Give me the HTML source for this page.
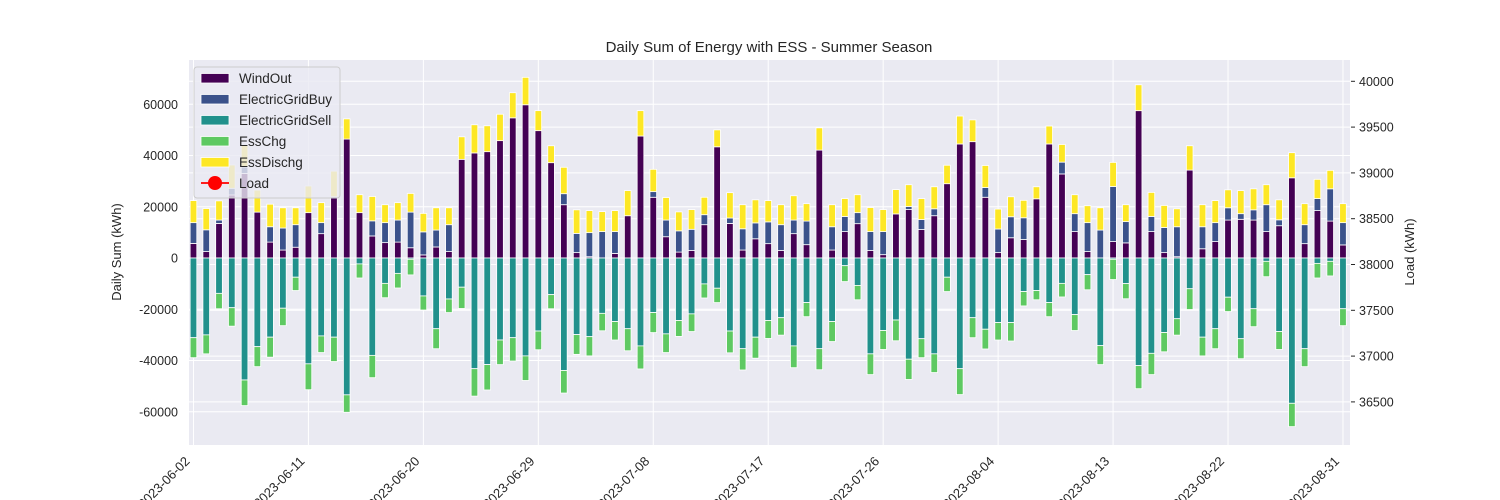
<!DOCTYPE html>
<html><head><meta charset="utf-8"><style>
html,body{margin:0;padding:0;background:#fff;}
svg{display:block;font-family:"Liberation Sans",Arial,sans-serif;}
</style></head><body>
<svg id="chart" width="1500" height="500" viewBox="0 0 1500 500">
<rect x="189" y="60" width="1161" height="385" fill="#eaeaf2"/>
<g id="grid"></g>
<g id="bars"></g>
<g id="axes"></g>
<text x="769" y="52" font-size="15" text-anchor="middle" fill="#262626">Daily Sum of Energy with ESS - Summer Season</text>
<text transform="translate(121,252) rotate(-90)" font-size="13" text-anchor="middle" fill="#262626">Daily Sum (kWh)</text>
<text transform="translate(1414,252) rotate(-90)" font-size="13" text-anchor="middle" fill="#262626">Load (kWh)</text>
<g id="legend"></g>
</svg>
<script>
const startDate = "2023-06-02";
const windOut = [5700,2500,13500,24600,33000,17900,6200,3100,4200,17700,9500,23900,46400,17700,8600,6000,6200,4000,1200,4300,2500,38500,41000,41500,45800,54700,59800,49700,37200,20800,2100,500,0,1800,16500,47600,23700,8300,2300,2900,13000,43400,13500,3100,7500,5600,2900,9500,5200,42100,3100,10300,13400,2900,1300,17200,18900,11100,16500,29000,44500,45400,23700,2100,7900,7200,23100,44500,32800,10300,2500,0,6400,5900,57500,10300,2100,500,34300,3600,6400,14800,15100,14800,10300,12600,31300,5600,18500,14400,5100];
const gridBuy = [8100,8500,1300,2600,2500,0,6000,8600,8800,0,4300,0,0,0,5900,7800,8600,13900,9000,6600,10500,0,0,0,0,0,0,0,0,4300,7500,9400,10300,8500,0,0,2200,6500,8300,8300,3900,0,2100,8300,6200,8500,10100,5300,9200,0,9100,5900,4300,7400,9000,0,1200,3900,2700,0,0,0,3800,9200,8200,8500,0,0,4600,7000,11300,10900,21500,8300,0,5900,9800,11700,0,8600,7400,4800,2200,4000,10500,2300,0,7400,4700,12600,8700];
const essDischg = [8600,8300,7500,9100,8500,8600,8800,7900,6600,10400,7800,10000,7900,7000,9500,7000,6800,7300,7200,8700,6600,8800,11000,10100,10300,9800,10700,7800,6600,10300,9200,8600,7800,8200,9800,9900,8700,8800,7400,7700,6800,6600,9900,9400,9000,8300,7800,9500,6800,8700,8600,7000,7000,9400,8600,9500,8500,8200,8600,7200,10900,8500,8600,7800,7800,6800,4700,7000,6900,7400,6600,8700,9400,6600,10100,9400,8600,7000,9500,8600,8600,7000,9000,8200,7800,7800,9800,8200,7500,7200,7400];
const gridSell = [31100,30000,13800,19400,47600,34600,30900,19600,7500,41300,30400,30900,53400,2300,38000,9900,6000,500,14800,27600,16000,11400,43200,41600,32000,31100,38200,28500,14300,43900,29900,30700,21600,24800,27600,34300,21300,29600,24400,21800,10100,11800,28500,35400,30900,24400,23300,34300,17400,35400,24800,3000,10700,37400,28300,24200,39500,31500,37400,7500,43200,23300,27800,25200,25200,13100,12700,17400,9900,22100,6500,34200,500,10000,42000,37200,29100,23700,12000,30900,27600,15300,31500,19800,1300,28700,56700,35400,2100,1300,19800];
const essChg = [7800,7400,6000,7200,10000,7800,7800,6800,5200,10100,6500,9500,6800,5500,8700,5600,5700,6100,5500,7800,5300,8300,10700,9900,9600,9100,9600,7300,5500,8800,7700,7500,6800,7200,8600,9000,7800,7300,6200,6900,5500,5600,8500,8300,8200,7000,6800,8500,5500,8200,7800,6200,5600,8100,7400,8100,7900,7400,7300,5600,10100,7800,7700,6800,7200,5600,3600,5500,5300,6200,5900,7400,7900,5900,9000,8300,7500,6400,8100,7300,7800,5600,7800,7000,6000,7000,9100,7000,5700,5700,6600];
const yTicks = [-60000,-40000,-20000,0,20000,40000,60000];
const y2Ticks = [36500,37000,37500,38000,38500,39000,39500,40000];
const xTickEvery = 9;
const seriesNames = ["WindOut","ElectricGridBuy","ElectricGridSell","EssChg","EssDischg","Load"];
const colors = {wind:"#440154",buy:"#3b528b",sell:"#21918c",chg:"#5ec962",dis:"#fde725"};

const L=189,R=1350,T=60,B=445;
const xMin=-0.35,xMax=90.55;
function xs(i){return L+(i-xMin)/(xMax-xMin)*(R-L);}
function ys(v){return 258 - v/20000*51.25;}
function y2s(v){return 81.3 + (40000-v)/500*45.8;}
const NS="http://www.w3.org/2000/svg";
function mk(tag,attrs,parent){const e=document.createElementNS(NS,tag);for(const k in attrs)e.setAttribute(k,attrs[k]);parent.appendChild(e);return e;}
const grid=document.getElementById('grid'),bars=document.getElementById('bars'),axes=document.getElementById('axes'),legend=document.getElementById('legend');

function fmtDate(i){const d=new Date(startDate+"T00:00:00Z");d.setUTCDate(d.getUTCDate()+i);return d.toISOString().slice(0,10);}
const n=windOut.length;
for(let i=0;i<n;i+=xTickEvery){
  const x=xs(i);
  const g=mk('line',{x1:x,x2:x,y1:T,y2:B,stroke:'#fff','stroke-width':1},grid);
  
  
  const t=mk('text',{transform:`translate(${x-3},${B+17}) rotate(-45)`,'font-size':13,'text-anchor':'end',fill:'#262626'},axes);
  t.textContent=fmtDate(i);
  
  
}
yTicks.forEach(v=>{
  const y=ys(v);
  const g=mk('line',{x1:L,x2:R,y1:y,y2:y,stroke:'#fff','stroke-width':1},grid);
  
  
  const t=mk('text',{x:178,y:y+4.5,'font-size':12.5,'text-anchor':'end',fill:'#262626'},axes);
  t.textContent=v;
  
  
});
y2Ticks.forEach(v=>{
  const y=y2s(v);
  const g=mk('line',{x1:L,x2:R,y1:y,y2:y,stroke:'#fff','stroke-width':1},grid);
  
  
  const tk=mk('line',{x1:R+1,x2:R+5,y1:y,y2:y,stroke:'#262626','stroke-width':1},axes);
  
  
  const t=mk('text',{x:R+9,y:y+4.5,'font-size':12.5,'text-anchor':'start',fill:'#262626'},axes);
  t.textContent=v;
  
  
});
const bw=(xs(1)-xs(0))*0.52;
function bar(i,v0,v1,c,name){
  if(v1===v0)return;
  const ya=ys(Math.max(v0,v1)),yb=ys(Math.min(v0,v1));
  const r=mk('rect',{x:xs(i)-bw/2,y:ya,width:bw,height:yb-ya,fill:c,stroke:'#fff','stroke-width':0.8},bars);
  
  
}
for(let i=0;i<n;i++){
  const a=windOut[i],b=a+gridBuy[i],c=b+essDischg[i];
  bar(i,0,a,colors.wind,'bar-windout');
  bar(i,a,b,colors.buy,'bar-gridbuy');
  bar(i,b,c,colors.dis,'bar-essdischg');
  const s=-gridSell[i],h=s-essChg[i];
  bar(i,0,s,colors.sell,'bar-gridsell');
  bar(i,s,h,colors.chg,'bar-esschg');
}
// legend
const lb=mk('rect',{x:194,y:67,width:146,height:131,rx:3,fill:'#eaeaf2','fill-opacity':0.8,stroke:'#cccccc','stroke-width':1},legend);


const lcols=[colors.wind,colors.buy,colors.sell,colors.chg,colors.dis];
seriesNames.forEach((nm,k)=>{
  const y=78+k*21;
  if(k<5){
    const p=mk('rect',{x:201,y:y-4.5,width:28,height:9.5,fill:lcols[k],stroke:'#fff','stroke-width':0.8},legend);
    
    
  } else {
    const l=mk('line',{x1:201,x2:229,y1:y,y2:y,stroke:'#ff0000','stroke-width':1.8},legend);
    
    
    const c=mk('circle',{cx:215,cy:y,r:7,fill:'#ff0000'},legend);
    
    
  }
  const t=mk('text',{x:239,y:y+5,'font-size':13.5,fill:'#262626'},legend);
  t.textContent=nm;
  
  
});
</script>
</body></html>
